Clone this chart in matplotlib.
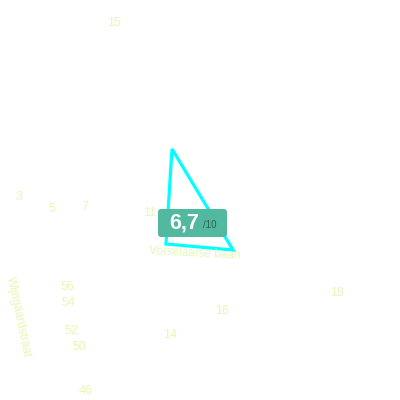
import matplotlib.pyplot as plt
from matplotlib.patches import Polygon, FancyBboxPatch

# huisnummers op de kaart (pixelpositie)
nummers = ['15', '3', '5', '7', '11', '56', '54', '52', '50', '46', '14', '16', '18']
nummer_x = [114, 19, 52, 85, 150, 67, 68, 71, 79, 86, 170, 222, 337]
nummer_y = [22, 195, 208, 205, 212, 285, 301, 330, 346, 389, 333, 309, 292]

# straatnamen
straten = ['Vorselaarse baan', 'Wijngaardstraat']
straat_x = [195, 18]
straat_y = [253, 317]
straat_rot = [-3, -78]

# perceel
perceel_x = [172, 233, 166, 172]
perceel_y = [149, 250, 244, 149]

score = 6.7
score_max = 10

tekstkleur = '#e6f7b6'

fig = plt.figure(figsize=(4, 4), dpi=100)
ax = fig.add_axes([0, 0, 1, 1])
ax.set_xlim(0, 400)
ax.set_ylim(400, 0)
ax.axis('off')

for t, x, y in zip(nummers, nummer_x, nummer_y):
    ax.text(x, y, t, ha='center', va='center_baseline', fontsize=9, color=tekstkleur,
            family='Liberation Sans')

for t, x, y, r in zip(straten, straat_x, straat_y, straat_rot):
    ax.text(x, y, t, ha='center', va='center', fontsize=8.5, color=tekstkleur,
            family='Liberation Sans', rotation=r, rotation_mode='anchor')

ax.add_patch(Polygon(list(zip(perceel_x, perceel_y)), closed=True, fill=False,
                     edgecolor='#00ffff', linewidth=2.3, joinstyle='miter'))

# label met score
ax.add_patch(FancyBboxPatch((158, 209), 69, 28, boxstyle='round,pad=0,rounding_size=3',
                            facecolor='#52b9a0', edgecolor='none', zorder=5))
score_txt = f'{score:.1f}'.replace('.', ',')
ax.text(199, 223.5, score_txt, ha='right', va='center', fontsize=15.5, fontweight='bold',
        color='white', family='Liberation Sans', zorder=6)
ax.text(203, 225.5, f'/{score_max}', ha='left', va='center', fontsize=7,
        color='#2f5f52', family='Liberation Sans', zorder=6)

fig.savefig('out.png', dpi=100, facecolor='white')
